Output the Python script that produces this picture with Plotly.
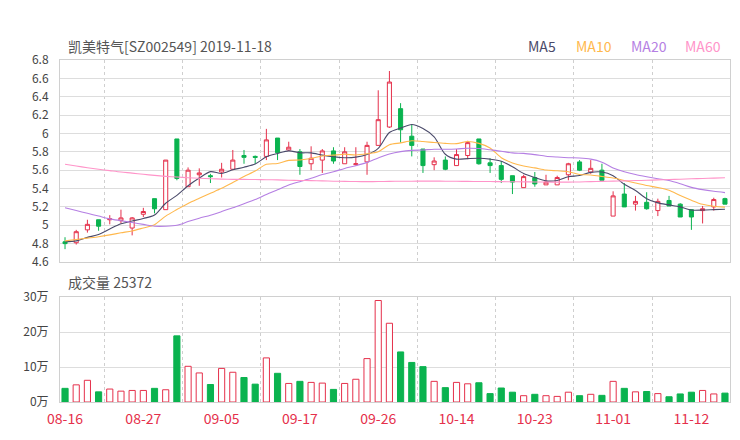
import plotly.graph_objects as go

# ---------------- data ----------------
dates = ["08-16", "08-19", "08-20", "08-21", "08-22", "08-23", "08-26", "08-27", "08-28", "08-29",
         "08-30", "09-02", "09-03", "09-04", "09-05", "09-06", "09-09", "09-10", "09-11", "09-12",
         "09-16", "09-17", "09-18", "09-19", "09-20", "09-23", "09-24", "09-25", "09-26", "09-27",
         "09-30", "10-08", "10-09", "10-10", "10-11", "10-14", "10-15", "10-16", "10-17", "10-18",
         "10-21", "10-22", "10-23", "10-24", "10-25", "10-28", "10-29", "10-30", "10-31", "11-01",
         "11-04", "11-05", "11-06", "11-07", "11-08", "11-11", "11-12", "11-13", "11-14", "11-15"]

open_ = [4.82, 4.81, 4.95, 5.06, 5.06, 5.05, 4.97, 5.12, 5.29, 5.17,
         5.94, 5.42, 5.55, 5.54, 5.58, 5.61, 5.76, 5.75, 5.75, 5.95,
         5.82, 5.80, 5.67, 5.71, 5.81, 5.67, 5.66, 5.69, 5.87, 6.07,
         6.27, 5.97, 5.83, 5.66, 5.71, 5.65, 5.76, 5.94, 5.68, 5.65,
         5.54, 5.41, 5.52, 5.44, 5.44, 5.55, 5.69, 5.58, 5.60, 5.10,
         5.34, 5.23, 5.25, 5.16, 5.27, 5.23, 5.17, 5.16, 5.20, 5.29]
high = [4.87, 4.95, 5.06, 5.06, 5.11, 5.17, 5.09, 5.19, 5.29, 5.71,
        5.94, 5.63, 5.62, 5.56, 5.68, 5.82, 5.82, 5.76, 6.05, 5.95,
        5.91, 5.83, 5.86, 5.83, 5.85, 5.85, 5.85, 5.91, 6.47, 6.68,
        6.33, 6.10, 5.83, 5.74, 5.75, 5.83, 5.92, 5.94, 5.73, 5.70,
        5.54, 5.55, 5.58, 5.55, 5.54, 5.68, 5.71, 5.71, 5.67, 5.37,
        5.46, 5.32, 5.36, 5.29, 5.32, 5.24, 5.17, 5.21, 5.30, 5.30]
low = [4.74, 4.79, 4.92, 4.94, 5.01, 5.02, 4.89, 5.09, 5.13, 5.17,
       5.49, 5.42, 5.43, 5.46, 5.52, 5.60, 5.67, 5.67, 5.71, 5.71,
       5.81, 5.55, 5.60, 5.57, 5.67, 5.67, 5.65, 5.55, 5.87, 6.06,
       5.90, 5.75, 5.57, 5.60, 5.60, 5.65, 5.72, 5.66, 5.57, 5.46,
       5.34, 5.41, 5.42, 5.44, 5.44, 5.49, 5.59, 5.56, 5.49, 5.10,
       5.20, 5.16, 5.17, 5.10, 5.21, 5.09, 4.95, 5.02, 5.16, 5.23]
close = [4.80, 4.93, 5.01, 4.99, 5.07, 5.08, 5.08, 5.15, 5.18, 5.71,
         5.51, 5.60, 5.57, 5.53, 5.61, 5.71, 5.74, 5.74, 5.93, 5.79,
         5.85, 5.64, 5.73, 5.81, 5.70, 5.80, 5.67, 5.87, 6.15, 6.56,
         6.04, 5.87, 5.65, 5.70, 5.61, 5.77, 5.90, 5.67, 5.65, 5.50,
         5.47, 5.53, 5.45, 5.47, 5.52, 5.67, 5.60, 5.62, 5.49, 5.32,
         5.20, 5.26, 5.18, 5.26, 5.21, 5.09, 5.09, 5.18, 5.28, 5.23]
volume = [39000, 49000, 62000, 29000, 37000, 31000, 33000, 33000, 39000, 35000,
          189000, 102000, 83000, 50000, 96000, 85000, 70000, 51000, 126000, 82000,
          53000, 59000, 56000, 54000, 36000, 53000, 65000, 124000, 290000, 225000,
          143000, 113000, 101000, 59000, 41000, 56000, 52000, 55000, 24000, 40000,
          28000, 18000, 22000, 18000, 16000, 28000, 18000, 22000, 19000, 59000,
          39000, 29000, 30000, 24000, 15000, 23000, 28000, 33000, 23000, 25372]

ma5 = [4.82, 4.83, 4.868, 4.90, 4.96, 5.016, 5.046, 5.074, 5.112, 5.24,
       5.326, 5.43, 5.514, 5.584, 5.564, 5.604, 5.632, 5.666, 5.746, 5.782,
       5.81, 5.79, 5.788, 5.764, 5.746, 5.736, 5.742, 5.77, 5.838, 6.01,
       6.058, 6.098, 6.054, 5.964, 5.774, 5.72, 5.726, 5.73, 5.72, 5.698,
       5.638, 5.564, 5.52, 5.484, 5.488, 5.528, 5.542, 5.576, 5.58, 5.54,
       5.446, 5.378, 5.29, 5.244, 5.222, 5.2, 5.166, 5.166, 5.17, 5.174]
ma10 = [4.83, 4.845, 4.86, 4.875, 4.895, 4.918, 4.938, 4.971, 5.006, 5.10,
        5.171, 5.238, 5.294, 5.348, 5.402, 5.465, 5.531, 5.59, 5.665, 5.673,
        5.707, 5.711, 5.727, 5.755, 5.764, 5.773, 5.766, 5.779, 5.801, 5.878,
        5.897, 5.92, 5.912, 5.901, 5.892, 5.889, 5.912, 5.892, 5.842, 5.736,
        5.679, 5.645, 5.625, 5.602, 5.593, 5.583, 5.553, 5.548, 5.532, 5.514,
        5.487, 5.46, 5.433, 5.412, 5.381, 5.323, 5.272, 5.228, 5.207, 5.198]
ma20 = [5.19, 5.16, 5.13, 5.10, 5.07, 5.05, 5.03, 5.01, 4.99, 4.99,
        5.0, 5.04, 5.077, 5.11, 5.149, 5.19, 5.235, 5.28, 5.336, 5.387,
        5.439, 5.475, 5.511, 5.552, 5.583, 5.619, 5.649, 5.685, 5.733, 5.776,
        5.802, 5.816, 5.82, 5.828, 5.828, 5.831, 5.839, 5.836, 5.822, 5.807,
        5.788, 5.783, 5.769, 5.752, 5.743, 5.736, 5.733, 5.72, 5.687, 5.625,
        5.583, 5.553, 5.529, 5.507, 5.487, 5.453, 5.413, 5.388, 5.37, 5.356]
ma60 = [5.664, 5.645, 5.627, 5.61, 5.595, 5.58, 5.568, 5.555, 5.543, 5.533,
        5.525, 5.518, 5.512, 5.507, 5.503, 5.50, 5.50, 5.498, 5.496, 5.494,
        5.49, 5.488, 5.486, 5.483, 5.48, 5.478, 5.476, 5.475, 5.476, 5.478,
        5.48, 5.48, 5.481, 5.481, 5.48, 5.479, 5.478, 5.477, 5.476, 5.475,
        5.474, 5.473, 5.472, 5.471, 5.47, 5.47, 5.472, 5.475, 5.478, 5.481,
        5.484, 5.487, 5.49, 5.494, 5.498, 5.502, 5.506, 5.51, 5.514, 5.518]

ma_names = ["MA5", "MA10", "MA20", "MA60"]
ma_colors = ["#4a4a6a", "#ffb84d", "#b57fe3", "#ff94c9"]

tick_idx = [0, 7, 14, 21, 28, 35, 42, 49, 56]
price_ticks = [4.6, 4.8, 5.0, 5.2, 5.4, 5.6, 5.8, 6.0, 6.2, 6.4, 6.6, 6.8]
price_labels = ["4.6", "4.8", "5", "5.2", "5.4", "5.6", "5.8", "6", "6.2", "6.4", "6.6", "6.8"]
vol_ticks = [0, 100000, 200000, 300000]
vol_labels = ["0万", "10万", "20万", "30万"]

title_text = "凯美特气[SZ002549] 2019-11-18"
vol_title = "成交量"

# ---------------- figure ----------------
RED = "#e5304b"
GREEN = "#0ab34f"
FONT = "Noto Sans CJK SC, Noto Sans, sans-serif"
W, H = 732, 432          # page body has an 8px margin
L, R = 52, 10
PT, PB = 52, 254         # price panel (px from top)
VT, VB = 289, 394        # volume panel


def fy(px):
    return 1 - px / H


x = list(range(len(dates)))
grid_x = [(tick_idx[i] + tick_idx[i + 1]) / 2 for i in range(len(tick_idx) - 1)]

fig = go.Figure()
fig.add_trace(go.Candlestick(
    x=x, open=open_, high=high, low=low, close=close,
    increasing=dict(line=dict(color=RED, width=1), fillcolor="white"),
    decreasing=dict(line=dict(color=GREEN, width=1), fillcolor=GREEN),
    whiskerwidth=0, xaxis="x", yaxis="y", hoverinfo="skip",
))
for vals, name, col in zip([ma5, ma10, ma20, ma60], ma_names, ma_colors):
    fig.add_trace(go.Scatter(x=x, y=vals, mode="lines", name=name,
                             line=dict(color=col, width=1.1, shape="spline", smoothing=0.8),
                             xaxis="x", yaxis="y", hoverinfo="skip"))

up = [c >= o for o, c in zip(open_, close)]
fig.add_trace(go.Bar(
    x=x, y=volume, width=0.55,
    marker=dict(color=["white" if u else GREEN for u in up],
                line=dict(color=[RED if u else GREEN for u in up], width=1)),
    xaxis="x2", yaxis="y2", hoverinfo="skip",
))

axis_common = dict(showline=True, linecolor="#d0d0d0", linewidth=1, mirror=True,
                   zeroline=False, ticks="", automargin=False)
xr = [-0.45, len(dates) - 0.55]
minor = dict(tickmode="array", tickvals=grid_x, showgrid=True,
             gridcolor="#cfcfcf", griddash="3px,3px", gridwidth=1, ticks="")

fig.update_layout(
    template="none",
    width=W, height=H,
    margin=dict(l=L, r=R, t=0, b=0, autoexpand=False),
    paper_bgcolor="white", plot_bgcolor="white",
    showlegend=False, boxgap=0.48,
    font=dict(family=FONT, size=12, color="#444"),
    xaxis=dict(domain=[0, 1], range=xr, anchor="y", showticklabels=False,
               showgrid=False, minor=minor, rangeslider=dict(visible=False), **axis_common),
    yaxis=dict(domain=[fy(PB), fy(PT)], range=[4.6, 6.8],
               tickvals=price_ticks, ticktext=price_labels, showgrid=True,
               gridcolor="#dddddd", gridwidth=1, ticklabelstandoff=8,
               tickfont=dict(size=12, color="#444"), anchor="x", **axis_common),
    xaxis2=dict(domain=[0, 1], range=xr, anchor="y2", matches="x",
                tickvals=[x[i] for i in tick_idx], ticktext=[dates[i] for i in tick_idx],
                tickfont=dict(size=14, color=RED), ticklabelstandoff=4,
                showgrid=False, minor=minor, **axis_common),
    yaxis2=dict(domain=[fy(VB), fy(VT)], range=[0, 300000],
                tickvals=vol_ticks, ticktext=vol_labels, showgrid=True,
                gridcolor="#dddddd", gridwidth=1, ticklabelstandoff=8,
                tickfont=dict(size=12, color="#444"), anchor="x2", **axis_common),
)

ann = [
    dict(text=title_text, x=(66 - 60) / 670, y=fy(38), xref="paper", yref="paper",
         xanchor="left", yanchor="middle", showarrow=False,
         font=dict(size=14, color="#555", family=FONT)),
    dict(text=f"{vol_title} {volume[-1]}", x=(66 - 60) / 670, y=fy(274), xref="paper", yref="paper",
         xanchor="left", yanchor="middle", showarrow=False,
         font=dict(size=14, color="#555", family=FONT)),
]
legend_px = [542, 594, 649, 703]
for name, col, px in zip(ma_names, ma_colors, legend_px):
    ann.append(dict(text=name, x=(px - 60) / 670, y=fy(38), xref="paper", yref="paper",
                    xanchor="center", yanchor="middle", showarrow=False,
                    font=dict(size=14, color=col, family=FONT)))
fig.update_layout(annotations=ann)

fig.write_html("out.html")
